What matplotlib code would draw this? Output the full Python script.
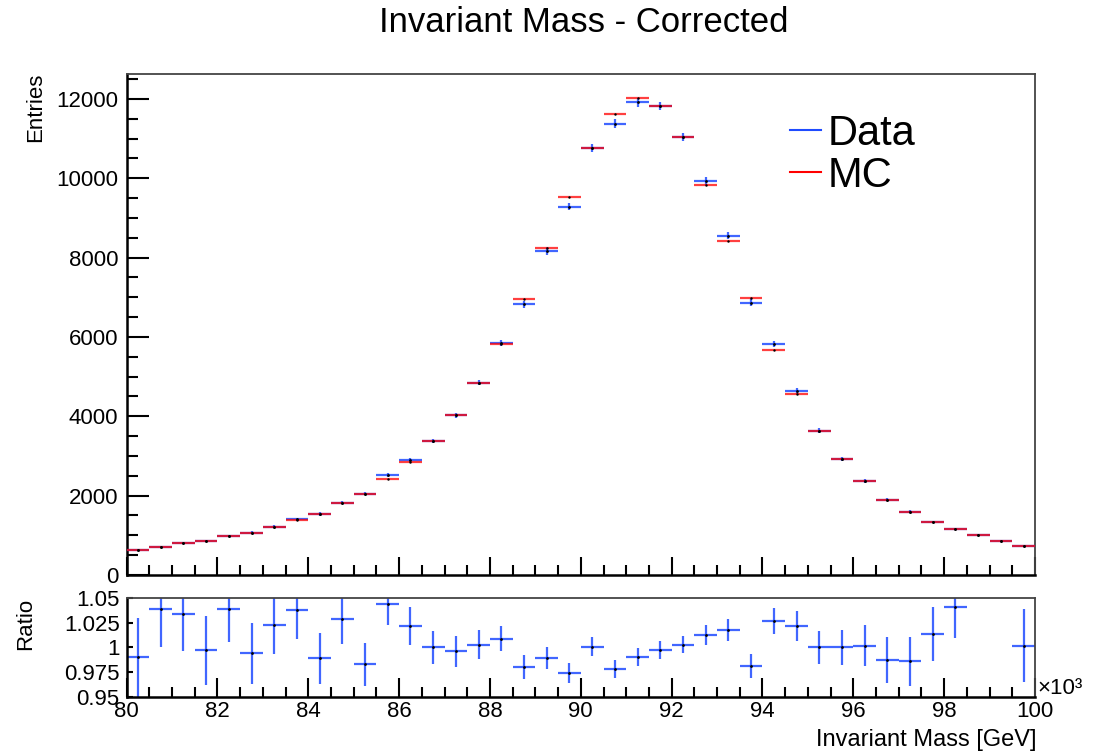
import numpy as np
import matplotlib
matplotlib.use('Agg')
import matplotlib.pyplot as plt
from matplotlib.ticker import MultipleLocator

plt.rcParams['font.family'] = ['Liberation Sans', 'DejaVu Sans']

# 40 bins, 0.5 GeV wide, from 80 to 100 GeV
bin_edges = np.linspace(80, 100, 41)
centers = 0.5 * (bin_edges[:-1] + bin_edges[1:])
half_width = 0.5 * (bin_edges[1] - bin_edges[0])

data = [630, 714, 798, 857, 983, 1067, 1218, 1403, 1538, 1823,
        2050, 2512, 2900, 3378, 4025, 4849, 5857, 6823, 8168, 9285,
        10757, 11378, 11916, 11823, 11042, 9941, 8554, 6865, 5815, 4639,
        3638, 2924, 2361, 1899, 1597, 1336, 1160, 1008, 865, 731]
mc = [630, 714, 798, 857, 975, 1067, 1218, 1390, 1538, 1815,
      2050, 2420, 2850, 3378, 4025, 4849, 5823, 6958, 8252, 9529,
      10757, 11630, 12025, 11810, 11042, 9824, 8420, 6975, 5672, 4555,
      3638, 2924, 2361, 1899, 1597, 1336, 1150, 998, 855, 731]

# ratio data/MC as drawn in the lower pad (two bins fall outside the range)
ratio = [0.990, 1.039, 1.034, 0.997, 1.039, 0.994, 1.023, 1.038, 0.989, 1.029,
         0.983, 1.044, 1.022, 1.000, 0.996, 1.003, 1.009, 0.980, 0.989, 0.9745,
         1.0007, 0.9785, 0.990, 0.9977, 1.003, 1.0124, 1.0174, 0.981, 1.027, 1.0215,
         1.000, 1.000, 1.002, 0.9876, 0.986, 1.0135, 1.0405, np.nan, np.nan, 1.002]
ratio_err = [0.040, 0.039, 0.038, 0.035, 0.033, 0.031, 0.030, 0.029, 0.026, 0.025,
             0.022, 0.021, 0.019, 0.017, 0.016, 0.0146, 0.013, 0.012, 0.011, 0.010,
             0.0095, 0.009, 0.009, 0.009, 0.009, 0.010, 0.011, 0.012, 0.013, 0.015,
             0.017, 0.018, 0.021, 0.023, 0.025, 0.027, 0.031, 0.033, 0.035, 0.037]

data = np.array(data, dtype=float)
mc = np.array(mc, dtype=float)
data_err = np.sqrt(data)  # poisson

blue = '#1f4bff'
red = '#ff0000'

fig = plt.figure(figsize=(11.12, 7.54), dpi=100)
axMain = fig.add_axes([0.1139, 0.2374, 0.8168, 0.6645])
axRatio = fig.add_axes([0.1139, 0.0756, 0.8168, 0.1313])

# main pad
axMain.errorbar(centers, data, xerr=half_width, yerr=data_err, fmt='none',
                ecolor=blue, elinewidth=1.6, alpha=0.85, zorder=3)
axMain.errorbar(centers, mc, xerr=half_width, fmt='none',
                ecolor=red, elinewidth=1.6, alpha=0.75, zorder=4)
axMain.plot(centers, data, 'k.', ms=2, zorder=5)
axMain.plot(centers, mc, 'k.', ms=1.5, zorder=5)

axMain.set_xlim(80, 100)
axMain.set_ylim(0, 12630)
axMain.xaxis.set_major_locator(MultipleLocator(2))
axMain.xaxis.set_minor_locator(MultipleLocator(0.5))
axMain.yaxis.set_major_locator(MultipleLocator(2000))
axMain.yaxis.set_minor_locator(MultipleLocator(500))
axMain.tick_params(axis='both', which='both', direction='in', top=False, right=False,
                   labelsize=16, width=1.5)
axMain.tick_params(axis='x', which='major', length=13, labelbottom=False)
axMain.tick_params(axis='x', which='minor', length=7)
axMain.tick_params(axis='y', which='major', length=15.5, pad=6)
axMain.tick_params(axis='y', which='minor', length=8)

from matplotlib.lines import Line2D
handles = [Line2D([], [], color=blue, lw=1.5), Line2D([], [], color=red, lw=1.5)]
fig.legend(handles, ['Data', 'MC'], loc='center left',
           bbox_to_anchor=(790 / 1112, 1 - 155 / 754), bbox_transform=fig.transFigure,
           frameon=False, fontsize=30, handlelength=0.75, handletextpad=0.15,
           labelspacing=0.05, borderpad=0, borderaxespad=0)

# ratio pad
axRatio.errorbar(centers, ratio, xerr=half_width, yerr=ratio_err, fmt='none',
                 ecolor=blue, elinewidth=1.6, alpha=0.85)
axRatio.plot(centers, ratio, 'k.', ms=2)
axRatio.set_xlim(80, 100)
axRatio.set_ylim(0.95, 1.05)
axRatio.set_yticks([0.95, 0.975, 1.0, 1.025, 1.05])
axRatio.set_yticklabels(['0.95', '0.975', '1', '1.025', '1.05'])
axRatio.xaxis.set_major_locator(MultipleLocator(2))
axRatio.xaxis.set_minor_locator(MultipleLocator(0.5))
axRatio.tick_params(axis='both', which='both', direction='in', top=False, right=False,
                    labelsize=16, width=1.5)
axRatio.tick_params(axis='x', which='major', length=13.5, pad=3)
axRatio.tick_params(axis='x', which='minor', length=7)
axRatio.tick_params(axis='y', which='major', length=4, pad=5)

for ax in (axMain, axRatio):
    for s in ('left', 'bottom'):
        ax.spines[s].set_linewidth(1.8)
    for s in ('top', 'right'):
        ax.spines[s].set_linewidth(1.3)
        ax.spines[s].set_color('#444444')

fig.text(584 / 1112, 1 - 22 / 754, 'Invariant Mass - Corrected', ha='center', va='center', fontsize=25)
fig.text(36 / 1112, 1 - 73 / 754, 'Entries', rotation=90, ha='center', va='top', fontsize=16)
fig.text(26 / 1112, 1 - 598 / 754, 'Ratio', rotation=90, ha='center', va='top', fontsize=16)
fig.text(1036 / 1112, 1 - 740 / 754, 'Invariant Mass [GeV]', ha='right', va='center', fontsize=17)
fig.text(1037 / 1112, 1 - 688 / 754, '×10³', ha='left', va='center', fontsize=16)

fig.savefig('out.png', dpi=100)
